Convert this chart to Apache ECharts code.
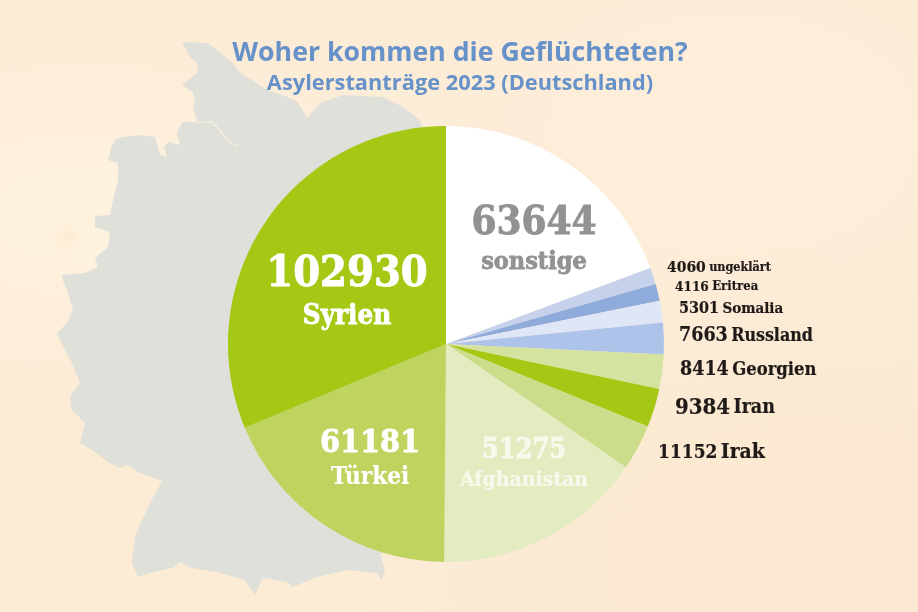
<!DOCTYPE html>
<html lang="de">
<head>
<meta charset="utf-8">
<title>Woher kommen die Geflüchteten?</title>
<script src="https://cdn.jsdelivr.net/npm/echarts@6/dist/echarts.min.js"></script>
<style>
  html, body { margin: 0; padding: 0; }
  body {
    width: 918px;
    height: 612px;
    overflow: hidden;
    background-color: #fcebd5;
    background-image:
      radial-gradient(ellipse at 10% 35%, rgba(255, 244, 226, 0.8), rgba(255, 244, 226, 0) 38%),
      radial-gradient(ellipse at 80% 22%, rgba(255, 242, 224, 0.5), rgba(255, 242, 224, 0) 42%),
      radial-gradient(ellipse at 88% 92%, rgba(248, 228, 200, 0.4), rgba(248, 228, 200, 0) 40%),
      radial-gradient(circle at 66px 237px, rgba(240, 190, 120, 0.45), rgba(240, 190, 120, 0) 16px);
  }
  #chart { width: 918px; height: 612px; }
</style>
</head>
<body>
<div id="chart"></div>
<script>
const titleText = "Woher kommen die Geflüchteten?";
const subtitleText = "Asylerstanträge 2023 (Deutschland)";

// im Uhrzeigersinn ab 12 Uhr
const countries = ["sonstige", "ungeklärt", "Eritrea", "Somalia", "Russland", "Georgien", "Iran", "Irak", "Afghanistan", "Türkei", "Syrien"];
const applications = [63644, 4060, 4116, 5301, 7663, 8414, 9384, 11152, 51275, 61181, 102930];
const sliceColors = ["#ffffff", "#c6d2ec", "#8eabdc", "#dfe6f6", "#aec3ea", "#d5e3a0", "#a4c814", "#cbdd8b", "#e3ebc1", "#bfd45f", "#a4c814"];

// Label-Layout: x, y, Schriftgroesse Zahl, Schriftgroesse Name, Farbe
const dark = "#1f1a17";
const labelSpots = [
  { x: 534, y: 239, num: 40, txt: 25, color: "#929292", inside: true },
  { x: 667, y: 268, num: 15.5, txt: 12.5, color: dark },
  { x: 675, y: 287, num: 13.5, txt: 13, color: dark },
  { x: 679, y: 309, num: 16, txt: 15, color: dark },
  { x: 679, y: 336, num: 19.5, txt: 17.7, color: dark },
  { x: 680, y: 370, num: 19.5, txt: 18.3, color: dark },
  { x: 675, y: 408, num: 22, txt: 19.5, color: dark },
  { x: 658, y: 453, num: 19, txt: 21, color: dark },
  { x: 524, y: 464, num: 27, txt: 21, color: "#f7f9ec", inside: true },
  { x: 370, y: 459, num: 32, txt: 24, color: "#ffffff", inside: true },
  { x: 347, y: 292, num: 43, txt: 27.5, color: "#ffffff", inside: true }
];

// Umriss Deutschland, nur Deko hinter dem Kreis
const germanyOutline = [
  [182, 42], [207, 43], [213, 47], [233, 63], [240, 73], [252, 80], [267, 90], [283, 95], [298, 102], [307, 118],
  [320, 103], [343, 95], [383, 97], [403, 107], [420, 120], [423, 130], [440, 200], [440, 500], [380, 555],
  [385, 570], [382, 580], [377, 573], [347, 570], [317, 577], [293, 587], [287, 582], [263, 578], [255, 595],
  [245, 580], [217, 572], [192, 568], [180, 562], [173, 568], [153, 572], [138, 577], [132, 563], [135, 537],
  [142, 520], [150, 503], [162, 481], [140, 473], [127, 465], [120, 468], [108, 462], [95, 452], [80, 443],
  [85, 423], [72, 410], [70, 397], [80, 383], [72, 363], [65, 350], [57, 333], [67, 323], [73, 310], [68, 293],
  [62, 278], [62, 275], [85, 273], [98, 267], [95, 258], [108, 247], [110, 232], [95, 227], [95, 216], [110, 215],
  [113, 200], [118, 180], [118, 163], [108, 160], [112, 145], [117, 138], [138, 135], [155, 137], [160, 155],
  [167, 157], [164, 147], [168, 142], [180, 145], [177, 133], [182, 122], [198, 122], [193, 110], [195, 102],
  [193, 92], [182, 85], [188, 80], [198, 72], [197, 63], [190, 57]
];
const elbeLine = [[198, 122], [212, 122], [222, 133], [230, 143], [238, 146]];

const slabFont = '"DejaVu Serif Condensed", "DejaVu Serif", serif';
const headFont = '"Open Sans", "Noto Sans", sans-serif';

const richStyle = (size, color) => ({
  fontFamily: slabFont,
  fontWeight: "bold",
  fontSize: size,
  color: color,
  textBorderColor: color,
  textBorderWidth: size > 24 ? 0.8 : 0.2,
  lineHeight: size + 6
});

const richStyles = {};
labelSpots.forEach((spot, i) => {
  richStyles["n" + i] = richStyle(spot.num, spot.color);
  richStyles["t" + i] = richStyle(spot.txt, spot.color);
});

const chart = echarts.init(document.getElementById("chart"), null, { renderer: "canvas" });

chart.setOption({
  animation: false,
  backgroundColor: "transparent",
  color: sliceColors,
  title: {
    text: titleText,
    subtext: subtitleText,
    left: 455,
    top: 35,
    textAlign: "center",
    itemGap: 6,
    textStyle: { fontFamily: headFont, fontWeight: "bold", fontSize: 26.7, color: "#6691c9" },
    subtextStyle: { fontFamily: headFont, fontWeight: "bold", fontSize: 21.8, color: "#6691c9" }
  },
  graphic: [
    {
      type: "polygon",
      z: -2,
      shape: { points: germanyOutline },
      style: { fill: "#e0e0da" }
    },
    {
      type: "polyline",
      z: -1,
      shape: { points: elbeLine },
      style: { fill: "none", stroke: "#f8efe0", lineWidth: 1.2 }
    }
  ],
  series: [
    {
      type: "pie",
      center: [446, 344],
      radius: [0, 218],
      startAngle: 90,
      clockwise: true,
      avoidLabelOverlap: false,
      silent: true,
      labelLine: { show: false },
      data: countries.map((name, i) => ({ name: name, value: applications[i] })),
      label: {
        show: true,
        position: "outside",
        formatter: (p) => {
          const sep = labelSpots[p.dataIndex].inside ? "\n" : " ";
          return `{n${p.dataIndex}|${p.value}}${sep}{t${p.dataIndex}|${p.name}}`;
        },
        rich: richStyles
      },
      labelLayout: (p) => {
        const spot = labelSpots[p.dataIndex];
        return {
          x: spot.x,
          y: spot.y,
          align: spot.inside ? "center" : "left",
          verticalAlign: "middle"
        };
      }
    }
  ]
});
</script>
</body>
</html>
